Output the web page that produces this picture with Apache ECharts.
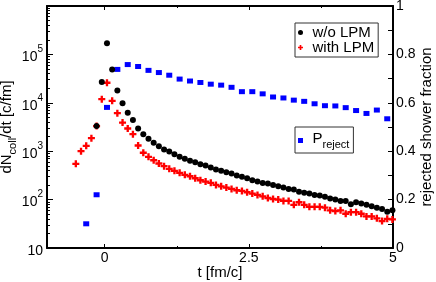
<!DOCTYPE html>
<html><head><meta charset="utf-8">
<script src="https://cdn.jsdelivr.net/npm/echarts@6/dist/echarts.min.js"></script>
<style>html,body{margin:0;padding:0;background:#fff}#c{width:436px;height:282px}</style>
</head><body><div id="c"></div>
<script>
const tFine = [-0.5,-0.41,-0.32,-0.23,-0.14,-0.05,0.04,0.13,0.22,0.31,0.4,0.49,0.58,0.67,0.76,0.85,0.94,1.03,1.12,1.21,1.3,1.39,1.48,1.57,1.66,1.75,1.84,1.93,2.02,2.11,2.2,2.29,2.38,2.47,2.56,2.65,2.74,2.83,2.92,3.01,3.1,3.19,3.28,3.37,3.46,3.55,3.64,3.73,3.82,3.91,4.0,4.09,4.18,4.27,4.36,4.45,4.54,4.63,4.72,4.81,4.9,4.99];
const woLPM = [null,null,null,null,3300,27000,170000,49000,18000,9800,6200,4400,2950,2250,1810,1490,1270,1080,986,867,765,696,632,592,538,505,460,418,393,368,345,314,295,276,251,236,220,214,201,188,177,166,161,146,138,133,125,121,114,106,100,94,94,80,88,83,78,73,68,64,56,60];
const withLPM = [548,1000,1290,1860,3300,11900,26000,11000,6100,3900,2950,2250,1310,930,765,651,556,490,432,393,357,325,304,276,251,236,222,201,188,177,166,156,151,142,133,125,117,108,103,100,94,94,78,88,78,71,71,71,68,60,58,60,51,55,55,51,45,45,41,36,40,39];
const tBlue = [-0.32,-0.14,0.04,0.22,0.4,0.58,0.76,0.94,1.12,1.3,1.48,1.66,1.84,2.02,2.2,2.38,2.56,2.74,2.92,3.1,3.28,3.46,3.64,3.82,4.0,4.18,4.36,4.54,4.72,4.9];
const pReject = [0.100,0.220,0.581,0.738,0.758,0.750,0.734,0.725,0.714,0.698,0.690,0.684,0.677,0.673,0.664,0.646,0.646,0.637,0.624,0.620,0.611,0.606,0.596,0.588,0.587,0.580,0.568,0.556,0.570,0.534];
const xMajorTicks = [0, 2.5, 5];
const xMinorTicks = [1.25, 3.75];
const yLogMajor = [10, 100, 1000, 10000, 100000, 1000000];
const yLogLabels = [10, 100, 1000, 10000, 100000];
const yLogMinor = [];
[10,100,1000,10000,100000].forEach(d => { for (let m = 2; m <= 9; m++) yLogMinor.push(d*m); });

const pairs = (xs, ys) => xs.map((x, i) => [x, ys[i]]).filter(p => p[1] != null);
const FONT = 'Liberation Sans, Arial, Helvetica, sans-serif';
const PLUS = 'path://M2,0h2v2h2v2h-2v2h-2v-2h-2v-2h2z';
const SQUARE = 'path://M0,0h10v10h-10z';
const black = '#000';
const subRich = {
  a:{fontSize:15, lineHeight:19, verticalAlign:'top', color:black, fontFamily:FONT},
  b:{fontSize:11, lineHeight:9, verticalAlign:'bottom', color:black, fontFamily:FONT}
};

const baseX = {type:'value', min:-1, max:5, splitLine:{show:false}, nameMoveOverlap:false};
const chart = echarts.init(document.getElementById('c'), null, {renderer:'canvas'});
chart.setOption({
  animation:false,
  backgroundColor:'#fff',
  textStyle:{fontFamily:FONT},
  grid:{left:47, right:43, top:6, bottom:34, containLabel:false, outerBoundsMode:'none'},
  xAxis:[
    Object.assign({}, baseX, {position:'bottom',
      axisLine:{onZero:false, lineStyle:{color:black, width:2}},
      axisTick:{inside:true, length:4, customValues:xMajorTicks, lineStyle:{color:black}},
      axisLabel:{customValues:xMajorTicks, fontSize:14, color:black, margin:3, fontFamily:FONT},
      name:'t [fm/c]', nameLocation:'middle', nameGap:17,
      nameTextStyle:{fontSize:15, color:black, fontFamily:FONT}}),
    Object.assign({}, baseX, {position:'bottom',
      axisLine:{show:false, onZero:false},
      axisTick:{inside:true, length:2, customValues:xMinorTicks, lineStyle:{color:black}},
      axisLabel:{show:false}}),
    Object.assign({}, baseX, {position:'top',
      axisLine:{onZero:false, lineStyle:{color:black, width:2}},
      axisTick:{inside:true, length:4, customValues:xMajorTicks, lineStyle:{color:black}},
      axisLabel:{show:false}}),
    Object.assign({}, baseX, {position:'top',
      axisLine:{show:false, onZero:false},
      axisTick:{inside:true, length:2, customValues:xMinorTicks, lineStyle:{color:black}},
      axisLabel:{show:false}})
  ],
  yAxis:[
    {type:'log', logBase:10, min:10, max:1000000, position:'left', splitLine:{show:false}, nameMoveOverlap:false,
      axisLine:{onZero:false, lineStyle:{color:black, width:2}},
      axisTick:{inside:true, length:6, customValues:yLogMajor, lineStyle:{color:black}},
      axisLabel:{customValues:yLogLabels, margin:4, color:black, fontFamily:FONT,
        formatter: v => { const e = Math.round(Math.log10(v)); return e === 1 ? '{a|10}' : '{a|10}{s|' + e + '}'; },
        rich:{
          a:{fontSize:14, lineHeight:20, verticalAlign:'bottom', color:black, fontFamily:FONT},
          s:{fontSize:10, lineHeight:10, verticalAlign:'top', color:black, fontFamily:FONT}
        }},
      name:'{a|dN}{b|coll}{a|/dt [c/fm]}', nameLocation:'middle', nameGap:29,
      nameTextStyle:{color:black, fontFamily:FONT, rich:subRich}},
    {type:'value', min:0, max:1, interval:0.1, position:'right', splitLine:{show:false}, nameMoveOverlap:false,
      axisLine:{onZero:false, lineStyle:{color:black, width:2}},
      axisTick:{inside:true, length:5, lineStyle:{color:black}},
      axisLabel:{margin:3, fontSize:14, color:black, fontFamily:FONT,
        formatter: v => (Math.round(v*10) % 2 === 0) ? String(Math.round(v*10)/10) : ''},
      name:'rejected shower fraction', nameLocation:'middle', nameGap:26,
      nameTextStyle:{fontSize:15, color:black, fontFamily:FONT}},
    {type:'log', logBase:10, min:10, max:1000000, position:'left', splitLine:{show:false},
      axisLine:{show:false, onZero:false},
      axisTick:{inside:true, length:3, customValues:yLogMinor, lineStyle:{color:black}},
      axisLabel:{show:false}}
  ],
  legend:[
    {data:[{name:'w/o LPM', icon:'circle'}, {name:'with LPM', icon:PLUS}],
      orient:'vertical', left:295, top:23, padding:[2,4,2,3], itemGap:0,
      itemWidth:14, itemHeight:5, borderColor:'#333', borderWidth:1, selectedMode:false,
      textStyle:{fontSize:15, lineHeight:15, color:black, fontFamily:FONT}},
    {data:[{name:'P_reject', icon:SQUARE}],
      orient:'vertical', left:295, top:127, padding:[4,4,3,3], itemGap:0,
      itemWidth:14, itemHeight:5, borderColor:'#333', borderWidth:1, selectedMode:false,
      formatter: () => '{a|P}{b|reject}',
      textStyle:{color:black, fontFamily:FONT, rich:subRich}}
  ],
  series:[
    {type:'scatter', name:'P_reject', xAxisIndex:0, yAxisIndex:1, data:pairs(tBlue, pReject),
      symbol:'rect', symbolSize:[6,5], itemStyle:{color:'#0000ff', opacity:1}, z:2},
    {type:'scatter', name:'with LPM', xAxisIndex:0, yAxisIndex:0, data:pairs(tFine, withLPM),
      symbol:PLUS, symbolSize:7, itemStyle:{color:'#ff0000', opacity:1}, z:3},
    {type:'scatter', name:'w/o LPM', xAxisIndex:0, yAxisIndex:0, data:pairs(tFine, woLPM),
      symbol:'circle', symbolSize:6, itemStyle:{color:'#000', opacity:1}, z:4}
  ]
});
</script></body></html>
